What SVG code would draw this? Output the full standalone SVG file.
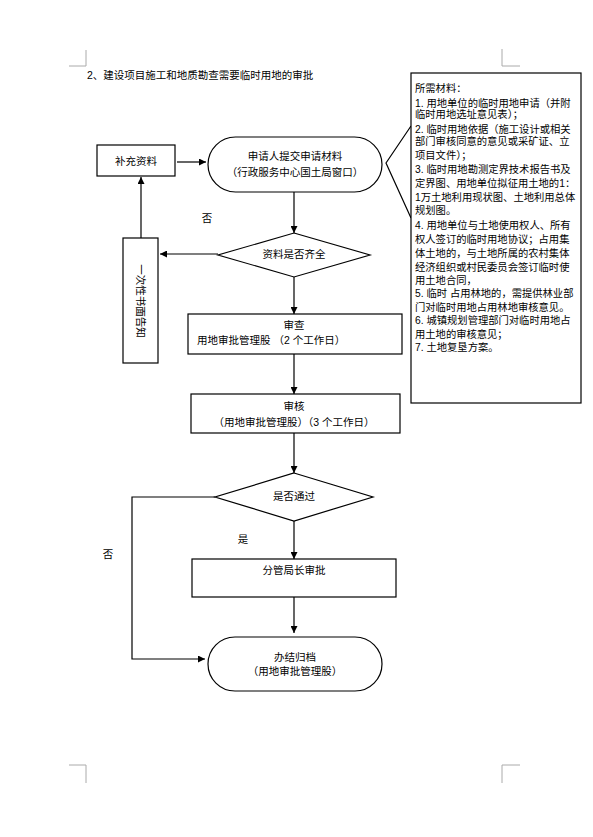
<svg xmlns="http://www.w3.org/2000/svg" width="593" height="837" viewBox="0 0 593 837">
<defs>
<marker id="arr" viewBox="0 0 8 8" refX="8" refY="4" markerWidth="7" markerHeight="7" markerUnits="userSpaceOnUse" orient="auto">
<path d="M0,0 L8,4 L0,8 Z" fill="#000"/>
</marker>
<style>
text{font-family:"Liberation Sans","Noto Sans CJK SC",sans-serif;font-size:10.5px;fill:#000}
.c{text-anchor:middle}
.n{font-size:10.3px}
.box{fill:#fff;stroke:#000;stroke-width:1.2}
.ln{fill:none;stroke:#000;stroke-width:1.2}
.crop{fill:none;stroke:#aaa;stroke-width:1}
</style>
</defs>
<rect width="593" height="837" fill="#fff"/>
<g id="cropmarks">
<path class="crop" d="M86,50 V66 H69"/>
<path class="crop" d="M502,49 V66 H520"/>
<path class="crop" d="M69,765 H86 V783"/>
<path class="crop" d="M520,765 H502 V783"/>
</g>
<text id="title" x="87" y="79">2、建设项目施工和地质勘查需要临时用地的审批</text>

<g id="connectors">
<line class="ln" x1="177" y1="162" x2="206" y2="162" marker-end="url(#arr)"/>
<line class="ln" x1="294" y1="192" x2="294" y2="233" marker-end="url(#arr)"/>
<line class="ln" x1="218" y1="254" x2="160" y2="254" marker-end="url(#arr)"/>
<line class="ln" x1="141" y1="238" x2="141" y2="177" marker-end="url(#arr)"/>
<line class="ln" x1="294" y1="277" x2="294" y2="314" marker-end="url(#arr)"/>
<line class="ln" x1="294" y1="354" x2="294" y2="394" marker-end="url(#arr)"/>
<line class="ln" x1="294" y1="433" x2="294" y2="473" marker-end="url(#arr)"/>
<line class="ln" x1="294" y1="521" x2="294" y2="559" marker-end="url(#arr)"/>
<line class="ln" x1="294" y1="597" x2="294" y2="633" marker-end="url(#arr)"/>
<path class="ln" d="M215,497 H132 V659 H205" stroke="#333" marker-end="url(#arr)"/>
<path class="ln" d="M411,126 L386,163 L411,218" stroke-width="1"/>
<text x="207" y="222" class="c">否</text>
<text x="108" y="558" class="c">否</text>
<text x="243" y="543" class="c">是</text>
</g>

<g id="buchong">
<rect class="box" x="97" y="145" width="78" height="31"/>
<text x="136" y="165" class="c">补充资料</text>
</g>
<g id="shenqing">
<rect class="box" x="208" y="137" width="174" height="55" rx="27.5" ry="27.5"/>
<text x="295" y="160" class="c">申请人提交申请材料</text>
<text x="295" y="176" class="c">（行政服务中心国土局窗口）</text>
</g>
<g id="qiquan">
<polygon class="box" points="294,233 370,255 294,277 218,255"/>
<text x="294" y="258" class="c">资料是否齐全</text>
</g>
<g id="gaozhi">
<rect class="box" x="123" y="238" width="35" height="125"/>
<text transform="translate(141,301) rotate(90)" x="0" y="3.7" class="c">一次性书面告知</text>
</g>
<g id="shencha">
<rect class="box" x="188" y="314" width="214" height="40"/>
<text x="294" y="329" class="c">审查</text>
<text x="197" y="344">用地审批管理股 （2 个工作日）</text>
</g>
<g id="shenhe">
<rect class="box" x="191" y="394" width="209" height="39"/>
<text x="294" y="410" class="c">审核</text>
<text x="294" y="426" class="c">（用地审批管理股）（3 个工作日）</text>
</g>
<g id="tongguo">
<polygon class="box" points="294,473 373,497 294,521 215,497"/>
<text x="294" y="500" class="c">是否通过</text>
</g>
<g id="juzhang">
<rect class="box" x="192" y="559" width="204" height="38"/>
<text x="294" y="574" class="c">分管局长审批</text>
</g>
<g id="banjie">
<rect class="box" x="208" y="637" width="174" height="54" rx="27" ry="27"/>
<text x="295" y="661" class="c">办结归档</text>
<text x="295" y="675" class="c">（用地审批管理股）</text>
</g>
<g id="note">
<rect class="box" x="411" y="73" width="170" height="330" stroke-width="1.3"/>
<text class="n" x="415" y="92">所需材料：</text>
<text class="n" x="415" y="107">1. 用地单位的临时用地申请（并附</text>
<text class="n" x="415" y="118">临时用地选址意见表）；</text>
<text class="n" x="415" y="133">2. 临时用地依据（施工设计或相关</text>
<text class="n" x="415" y="145">部门审核同意的意见或采矿证、立</text>
<text class="n" x="415" y="159">项目文件）；</text>
<text class="n" x="415" y="173">3. 临时用地勘测定界技术报告书及</text>
<text class="n" x="415" y="187">定界图、用地单位拟征用土地的1：</text>
<text class="n" x="415" y="201">1万土地利用现状图、土地利用总体</text>
<text class="n" x="415" y="214">规划图。</text>
<text class="n" x="415" y="229">4. 用地单位与土地使用权人、所有</text>
<text class="n" x="415" y="243">权人签订的临时用地协议；占用集</text>
<text class="n" x="415" y="257">体土地的，与土地所属的农村集体</text>
<text class="n" x="415" y="271">经济组织或村民委员会签订临时使</text>
<text class="n" x="415" y="284">用土地合同，</text>
<text class="n" x="415" y="297">5. 临时 占用林地的，需提供林业部</text>
<text class="n" x="415" y="311">门对临时用地占用林地审核意见。</text>
<text class="n" x="415" y="324">6. 城镇规划管理部门对临时用地占</text>
<text class="n" x="415" y="338">用土地的审核意见；</text>
<text class="n" x="415" y="351">7. 土地复垦方案。</text>
</g>
</svg>
